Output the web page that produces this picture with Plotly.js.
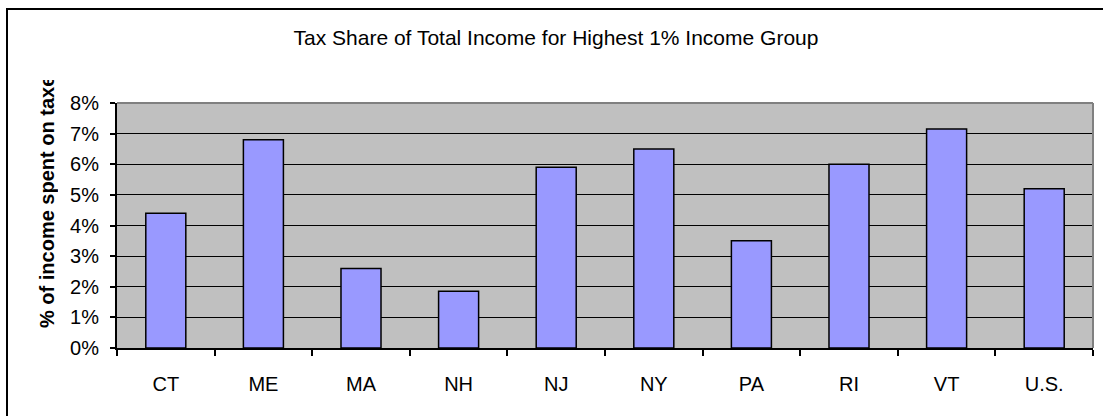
<!DOCTYPE html>
<html>
<head>
<meta charset="utf-8">
<script src="https://cdn.plot.ly/plotly-3.0.1.min.js"></script>
<style>
  html, body { margin: 0; padding: 0; overflow: hidden; background: #fff; }
  #wrap { position: relative; width: 1103px; height: 416px; overflow: hidden; }
  #chart { width: 1103px; height: 416px; }
  #frame { position: absolute; left: 6px; top: 8px; width: 2000px; height: 1000px;
           border-left: 2px solid #000; border-top: 2px solid #000; pointer-events: none; }
</style>
</head>
<body>
<div id="wrap">
  <div id="chart"></div>
  <div id="frame"></div>
</div>
<script>
const categories = ["CT", "ME", "MA", "NH", "NJ", "NY", "PA", "RI", "VT", "U.S."];
const taxShare = [4.4, 6.8, 2.6, 1.85, 5.9, 6.5, 3.5, 6.0, 7.15, 5.2];
const yTicks = [0, 1, 2, 3, 4, 5, 6, 7, 8];
const chartTitle = "Tax Share of Total Income for Highest 1% Income Group";
const yTitle = "% of income spent on taxes";

const font = "Arial, 'Liberation Sans', sans-serif";

const trace = {
  type: "bar",
  x: categories,
  y: taxShare,
  marker: { color: "#9999FF", line: { color: "#000000", width: 1.5 } },
  hoverinfo: "x+y"
};

const layout = {
  width: 1103,
  height: 416,
  margin: { l: 117, r: 10, t: 103, b: 68, pad: 0 },
  paper_bgcolor: "#ffffff",
  plot_bgcolor: "#C0C0C0",
  bargap: 0.59,
  showlegend: false,
  font: { family: font, color: "#000", size: 20 },
  title: {
    text: chartTitle,
    font: { family: font, size: 21, color: "#000" },
    xref: "container", x: 556 / 1103, xanchor: "center",
    yref: "container", y: 1 - 38 / 416, yanchor: "middle"
  },
  xaxis: {
    type: "category",
    tickson: "boundaries",
    ticks: "outside",
    ticklen: 6,
    tickwidth: 2,
    tickcolor: "#000",
    showline: true,
    linecolor: "#000",
    linewidth: 2,
    showgrid: false,
    ticklabelstandoff: 17,
    tickfont: { family: font, size: 20, color: "#000" },
    fixedrange: true
  },
  yaxis: {
    range: [0, 8],
    tickvals: yTicks,
    ticktext: yTicks.map(v => v + "%"),
    ticks: "outside",
    ticklen: 5,
    tickwidth: 2,
    tickcolor: "#000",
    showline: true,
    linecolor: "#000",
    linewidth: 2,
    showgrid: true,
    gridcolor: "#000",
    gridwidth: 1,
    zeroline: false,
    ticklabelstandoff: 7,
    tickfont: { family: font, size: 20, color: "#000" },
    fixedrange: true
  },
  shapes: [
    { type: "line", xref: "paper", yref: "paper", x0: 0, x1: 1, y0: 1, y1: 1,
      line: { color: "#808080", width: 2 }, layer: "above" },
    { type: "line", xref: "paper", yref: "paper", x0: 1, x1: 1, y0: 0, y1: 1,
      line: { color: "#808080", width: 2 }, layer: "above" }
  ],
  annotations: [
    {
      text: "<b>" + yTitle + "</b>",
      xref: "paper", yref: "paper",
      x: (47 - 117) / 976, y: (348 - 204) / 245,
      xanchor: "center", yanchor: "middle",
      textangle: -90,
      width: 248,
      align: "left",
      showarrow: false,
      font: { family: font, size: 20, color: "#000" }
    }
  ]
};

Plotly.newPlot("chart", [trace], layout, { displayModeBar: false, staticPlot: true });
</script>
</body>
</html>
